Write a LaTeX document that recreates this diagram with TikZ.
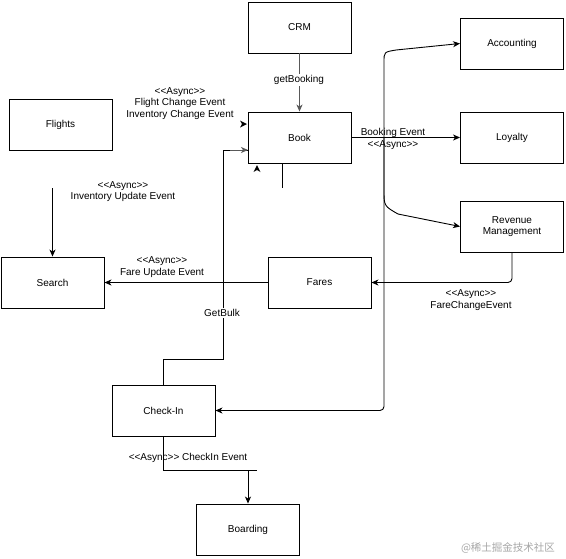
\documentclass[tikz,border=0pt]{standalone}
\usepackage{fontspec}
\setmainfont{Liberation Sans}
\newfontfamily\cjkfont{Noto Sans CJK SC}
\usetikzlibrary{arrows.meta,calc}
\begin{document}
\begin{tikzpicture}[x=1pt,y=-1pt,
  box/.style={draw, line width=0.9pt, minimum width=103pt, minimum height=51pt, inner sep=0pt, align=center, font=\fontsize{10}{11.5}\selectfont},
  conn/.style={line width=0.9pt},
  arr/.style={conn, -{Stealth[length=7pt,width=6pt,inset=2pt]}},
  garr/.style={line width=0.9pt, draw=black!65, -{Stealth[length=7pt,width=6pt,inset=2pt]}},
  lbl/.style={align=center, inner sep=1pt, font=\fontsize{10}{11.5}\selectfont},
  wlbl/.style={lbl, fill=white}]
\useasboundingbox (0,0) rectangle (566,558);
% boxes
\node[box] (crm) at (299.5,27.5) {CRM};
\node[box] (book) at (299.5,137.5) {Book};
\node[box] (flights) at (60.5,124.5) {Flights};
\node[box] (acc) at (512,43.5) {Accounting};
\node[box] (loy) at (512,137.5) {Loyalty};
\node[box] (rev) at (512,226.5) {Revenue\\Management};
\node[box] (search) at (52.5,282.5) {Search};
\node[box] (fares) at (319.5,282.5) {Fares};
\node[box] (checkin) at (163.5,410.5) {Check-In};
\node[box] (boarding) at (248,529.5) {Boarding};
% helper coordinates
\coordinate (jn) at (384,137.5);
\coordinate (jtop) at (384,62);
\coordinate (jtc) at (396,50);
\coordinate (jbot) at (384,190);
\coordinate (jbc) at (398,214);
\coordinate (iu) at (52.5,188);
\coordinate (g1) at (223,359);
\coordinate (gb) at (248,150);
\coordinate (c2) at (257,470);
\coordinate (c3) at (248,470);
\coordinate (bs) at (282,188);
% CRM -> Book
\draw[garr] (crm) -- (book);
\node[wlbl] (lgb) at (299,80) {getBooking};
% Booking event bus
\draw[arr] (book.east) -- (loy.west);
\draw[arr] (jn) -- (jtop) .. controls (384,52) .. (jtc) -- (acc.west);
\draw[arr] (jn) -- (jbot) .. controls (384,206) .. (jbc) -- (rev.west);
\draw[arr, rounded corners=4pt] (jn) |- (checkin.east);
\node[lbl] (lbe) at (393,139) {Booking Event\\<{}<Async>{}>};
% Revenue -> Fares
\draw[arr, rounded corners=4pt] (rev.south) |- (fares.east);
\node[lbl] (lfc) at (471,300) {<{}<Async>{}>\\FareChangeEvent};
% Fares -> Search
\draw[arr] (fares.west) -- (search.east);
\node[lbl] (lfu) at (162,267) {<{}<Async>{}>\\Fare Update Event};
% Inventory update -> Search
\draw[arr] (iu) -- (search.north);
\node[lbl] (liu) at (123,191.5) {<{}<Async>{}>\\Inventory Update Event};
% flight change label
\node[lbl] (lfl) at (180,103.5) {<{}<Async>{}>\\Flight Change Event\\Inventory Change Event};
% GetBulk
\draw[conn] (checkin.north) |- (g1) |- (gb);
\draw[garr] ($(gb)+(-18,0)$) -- (gb);
\node[wlbl] (lbulk) at (222,313) {GetBulk};
% Check-In -> Boarding
\draw[conn] (checkin.south) |- (c2);
\draw[arr] (c3) -- (boarding.north);
\node[lbl] (lci) at (188,458) {<{}<Async>{}> CheckIn Event};
% Book bottom stub
\draw[conn] (bs |- book.south) -- (bs);
% stray arrowheads
\fill (247,124) -- (240,120.5) -- (242,124) -- (240,127.5) -- cycle;
\fill (257,165) -- (253.5,172) -- (257,170) -- (260.5,172) -- cycle;
% watermark
\node[text=black!35, font=\cjkfont\fontsize{10.5}{12}\selectfont, inner sep=0pt] (wm) at (508,548) {@稀土掘金技术社区};
\end{tikzpicture}
\end{document}
